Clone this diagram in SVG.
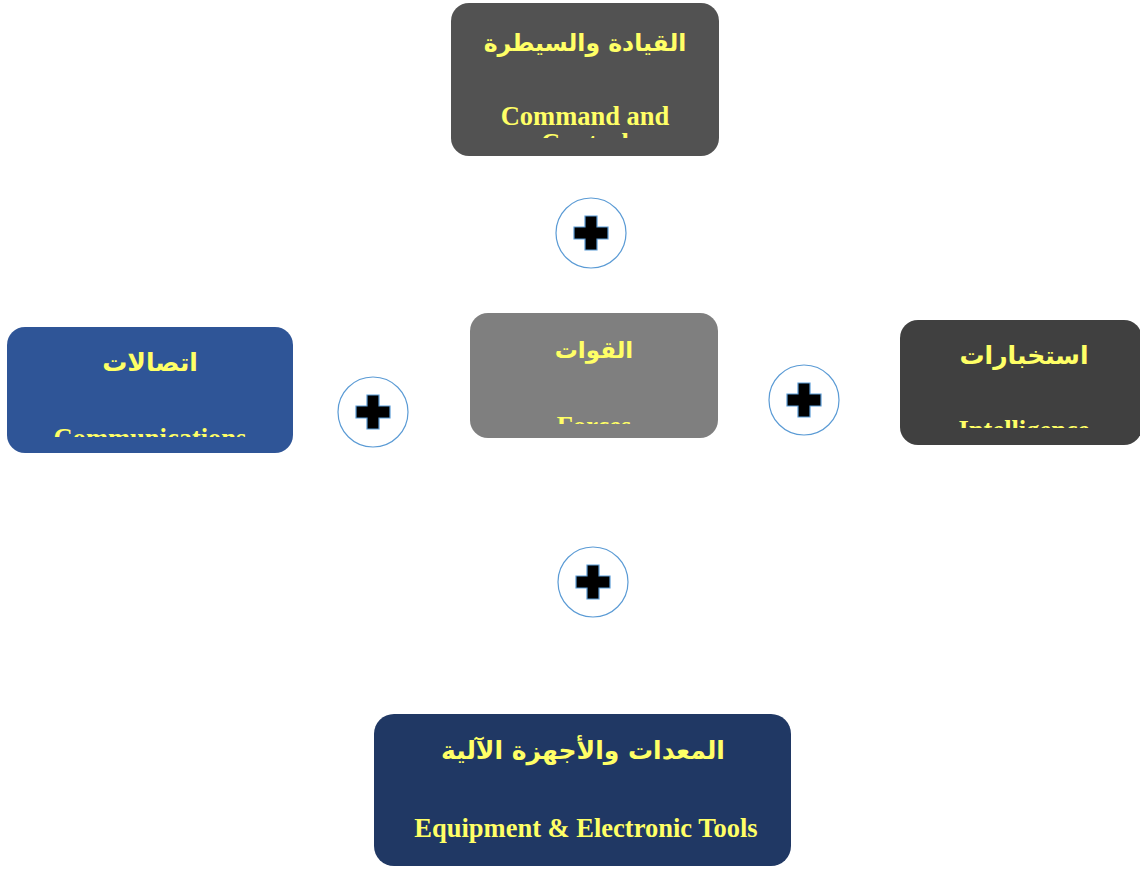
<svg xmlns="http://www.w3.org/2000/svg" width="1140" height="869" viewBox="0 0 1140 869">
<style>
.ar{font-family:"DejaVu Sans","Noto Sans",sans-serif;font-weight:bold;font-size:25px;fill:#FFFF66;text-anchor:middle}
.en{font-family:"Liberation Serif","Times New Roman",serif;font-weight:bold;font-size:26.5px;fill:#FFFF66;text-anchor:middle}
.ring{fill:#fff;stroke:#5B9BD5;stroke-width:1.2}
.plus{fill:#000;stroke:#5B9BD5;stroke-width:1.2}
</style>
<defs>
<clipPath id="c1"><rect x="451" y="3" width="268" height="135"/></clipPath>
<clipPath id="c2"><rect x="7" y="327" width="286" height="110"/></clipPath>
<clipPath id="c3"><rect x="470" y="313" width="248" height="111"/></clipPath>
<clipPath id="c4"><rect x="900" y="320" width="240" height="108"/></clipPath>
<symbol id="plusSym" viewBox="-36 -36 72 72">
<circle class="ring" cx="0" cy="0" r="35"/>
<path class="plus" d="M-6,-17H6V-6H17V6H6V17H-6V6H-17V-6H-6Z"/>
</symbol>
</defs>
<rect width="1140" height="869" fill="#fff"/>
<g id="connectors">
<use href="#plusSym" x="555" y="197" width="72" height="72"/>
<use href="#plusSym" x="337" y="376" width="72" height="72"/>
<use href="#plusSym" x="768" y="364" width="72" height="72"/>
<use href="#plusSym" x="557" y="546" width="72" height="72"/>
</g>
<g id="command">
<rect x="451" y="3" width="268" height="153" rx="18" fill="#525252"/>
<g clip-path="url(#c1)">
<text class="ar" x="585" y="51" style="font-size:23.5px">القيادة والسيطرة</text>
<text class="en" x="585" y="125">Command and</text>
<text class="en" x="585" y="152">Control</text>
</g>
</g>
<g id="communications">
<rect x="7" y="327" width="286" height="126" rx="18" fill="#2F5597"/>
<g clip-path="url(#c2)">
<text class="ar" x="150" y="371">اتصالات</text>
<text class="en" x="150" y="447">Communications</text>
</g>
</g>
<g id="forces">
<rect x="470" y="313" width="248" height="125" rx="18" fill="#7F7F7F"/>
<g clip-path="url(#c3)">
<text class="ar" x="594" y="358" style="font-size:23px">القوات</text>
<text class="en" x="594" y="435">Forces</text>
</g>
</g>
<g id="intelligence">
<rect x="900" y="320" width="242" height="125" rx="18" fill="#404040"/>
<g clip-path="url(#c4)">
<text class="ar" x="1024" y="364">استخبارات</text>
<text class="en" x="1024" y="439">Intelligence</text>
</g>
</g>
<g id="equipment">
<rect x="374" y="714" width="417" height="152" rx="20" fill="#203864"/>
<text class="ar" x="583" y="759">المعدات والأجهزة الآلية</text>
<text class="en" x="586" y="837">Equipment &amp; Electronic Tools</text>
</g>
</svg>
